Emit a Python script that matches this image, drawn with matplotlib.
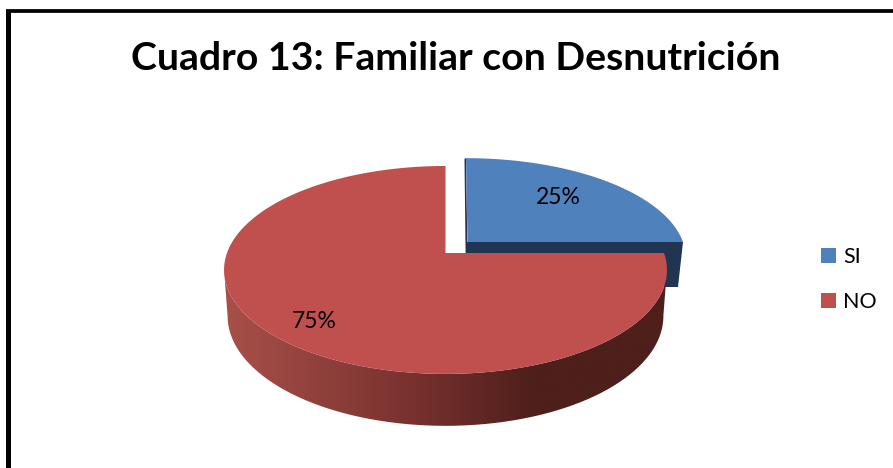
import numpy as np
import matplotlib
matplotlib.use("Agg")
import matplotlib.pyplot as plt
from matplotlib.patches import Polygon, Patch, PathPatch
from matplotlib.path import Path
from matplotlib.colors import LinearSegmentedColormap

title = "Cuadro 13: Familiar con Desnutrición"
categories = ["SI", "NO"]
values = [25, 75]
labels = ["25%", "75%"]
colors = ["#4F81BD", "#C0504D"]

plt.rcParams["font.family"] = ["Lato", "DejaVu Sans"]
fig = plt.figure(figsize=(8.93, 4.68), dpi=100)
ax = fig.add_axes([0, 0, 1, 1])

KP = 0.163


def project(theta, cx, cy, rx, ry):
    u, v = np.cos(theta), np.sin(theta)
    d = 1 + KP * v
    return cx + rx * u / d, cy - ry * v / d


def arc(start, sweep, *geom):
    t = np.radians(np.linspace(start, start - sweep, 300))
    return np.column_stack(project(t, *geom))


sweeps = [v / sum(values) * 360 for v in values]
start_si, start_no = 90, 90 - sweeps[0]

# SI slice (pulled out)
top_si = (466, 242, 217, 97.5)
si_arc = arc(start_si, sweeps[0], *top_si)
end = si_arc[-1]
ax.add_patch(Polygon([(464.5, 159), (466, 158), (468, 290), (466, 290)],
                     fc="#1F3552", ec="none", zorder=1))
ax.add_patch(Polygon([(466, 242), end, (end[0] - 5, end[1] + 45), (466, end[1] + 45)],
                     fc="#1F3552", ec="none", zorder=1))
ax.add_patch(Polygon(np.vstack([[(467.5, 242)], si_arc]), fc=colors[0], ec="none", zorder=2))

# NO slice
top_no = (445.5, 253, 218.5, 101.2)
bot_no = (445.5, 298, 215, 107)
no_arc = arc(start_no, sweeps[1], *top_no)
upper = np.column_stack(project(np.radians(np.linspace(-9, -171, 300)), *top_no))
lower = np.column_stack(project(np.radians(np.linspace(-171, -9, 300)), *bot_no))
side_path = Path(np.vstack([upper, lower, upper[:1]]))
side_patch = PathPatch(side_path, fc="none", ec="none", transform=ax.transData)
ax.add_patch(side_patch)
cmap = LinearSegmentedColormap.from_list(
    "side", [(0, "#A8504A"), (0.40, "#7C3330"), (0.70, "#4E1F1B"), (1, "#4E1F1B")])
img = ax.imshow(np.linspace(0, 1, 256)[None, :], extent=(224, 667, 430, 250),
                cmap=cmap, aspect="auto", zorder=3)
img.set_clip_path(side_patch)
ax.add_patch(Polygon(np.vstack([[(445.5, 253)], no_arc]), fc=colors[1], ec="none", zorder=4))

# value labels
ax.text(558, 198, labels[0], fontsize=16.5, ha="center", va="center", color="black", zorder=5)
ax.text(314, 322, labels[1], fontsize=16.5, ha="center", va="center", color="black", zorder=5)

# title
ax.text(455.5, 59, title, fontsize=28.3, fontweight="bold", ha="center", va="center", color="black")

# legend
handles = [Patch(fc=c, ec="none") for c in colors]
ax.legend(handles, categories, loc="center left", bbox_to_anchor=(821 / 893, 1 - 279.5 / 468),
          frameon=False, fontsize=15.5, handlelength=0.7, handleheight=0.7, handletextpad=0.33,
          labelspacing=1.2, borderpad=0, borderaxespad=0)

# chart frame
ax.plot([8, 8], [468, 11], color="black", lw=3.6, solid_capstyle="butt", zorder=6)
ax.plot([6, 893], [11, 11], color="black", lw=2.7, solid_capstyle="butt", zorder=6)

ax.set_xlim(0, 893)
ax.set_ylim(468, 0)
ax.axis("off")
fig.savefig("out.png", dpi=100, facecolor="white")
